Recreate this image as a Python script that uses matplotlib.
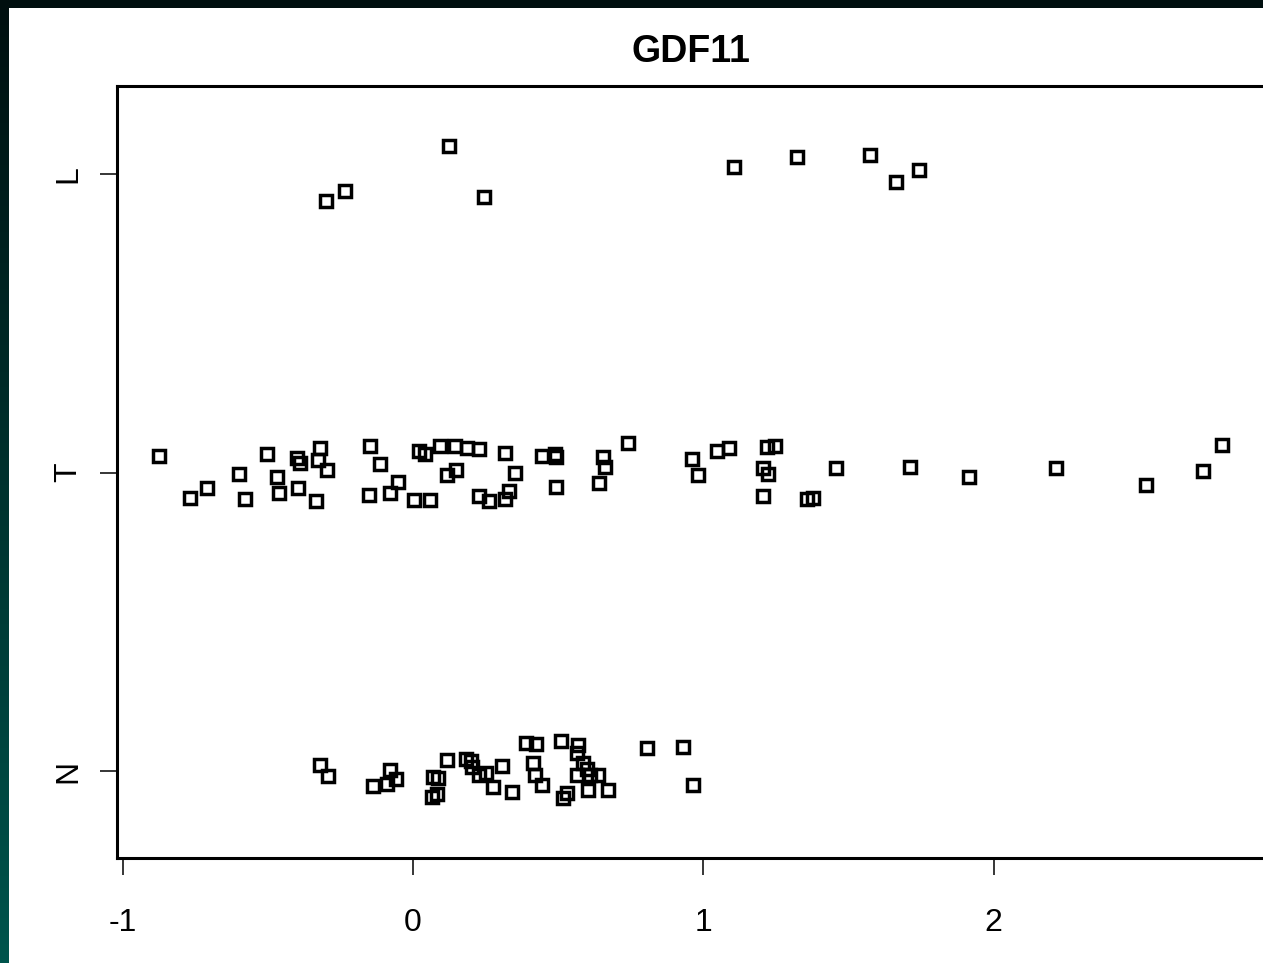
import matplotlib
matplotlib.use("Agg")
import matplotlib.pyplot as plt
import numpy as np
from matplotlib.patches import Rectangle

# GDF11 values per group (x) and the vertical jitter of each point
n_vals = [-0.322, -0.293, -0.138, -0.079, -0.059, -0.090, 0.069, 0.086, 0.065, 0.083,
          0.117, 0.183, 0.200, 0.203, 0.227, 0.251, 0.306, 0.276, 0.341, 0.389,
          0.424, 0.413, 0.420, 0.444, 0.510, 0.568, 0.565, 0.586, 0.599, 0.610,
          0.565, 0.637, 0.517, 0.530, 0.603, 0.672, 0.806, 0.930, 0.965]
n_jit = [0.020, -0.017, -0.050, 0.003, -0.027, -0.044, -0.020, -0.023, -0.087, -0.077,
         0.037, 0.040, 0.034, 0.013, -0.013, -0.007, 0.017, -0.054, -0.070, 0.094,
         0.090, 0.027, -0.013, -0.047, 0.100, 0.087, 0.060, 0.027, 0.007, -0.013,
         -0.013, -0.013, -0.090, -0.074, -0.064, -0.064, 0.077, 0.080, -0.047]

t_vals = [-0.875, -0.768, -0.710, -0.599, -0.579, -0.503, -0.468, -0.462, -0.400, -0.389,
          -0.396, -0.320, -0.327, -0.334, -0.296, -0.148, -0.114, -0.152, -0.052, -0.079,
          0.003, 0.059, 0.021, 0.041, 0.093, 0.145, 0.186, 0.227, 0.117, 0.148,
          0.227, 0.262, 0.317, 0.351, 0.317, 0.331, 0.444, 0.489, 0.493, 0.493,
          0.741, 0.654, 0.661, 0.641, 0.961, 0.982, 1.047, 1.089, 1.219, 1.247,
          1.206, 1.223, 1.206, 1.357, 1.378, 1.457, 1.712, 1.915, 2.215, 2.525,
          2.721, 2.787]
t_jit = [0.055, -0.085, -0.052, -0.005, -0.089, 0.062, -0.015, -0.069, 0.049, 0.032,
         -0.052, 0.082, 0.042, -0.095, 0.008, 0.089, 0.028, -0.075, -0.032, -0.069,
         -0.092, -0.092, 0.072, 0.062, 0.089, 0.089, 0.082, 0.079, -0.008, 0.008,
         -0.079, -0.095, 0.065, -0.002, -0.089, -0.062, 0.055, 0.062, 0.052, -0.049,
         0.099, 0.052, 0.018, -0.035, 0.045, -0.008, 0.072, 0.082, 0.085, 0.089,
         0.015, -0.005, -0.079, -0.089, -0.085, 0.015, 0.018, -0.015, 0.015, -0.042,
         0.005, 0.092]

l_vals = [0.124, -0.300, -0.234, 0.245, 1.106, 1.323, 1.574, 1.664, 1.743]
l_jit = [0.094, -0.090, -0.057, -0.077, 0.023, 0.057, 0.064, -0.027, 0.013]

groups = ["N", "T", "L"]
x_ticks = [-1, 0, 1, 2]

W, H = 1263, 963
fig = plt.figure(figsize=(W / 100, H / 100), dpi=100)

# dark screenshot frame with a vertical gradient, white page on top
bg = fig.add_axes([0, 0, 1, 1])
top = np.array([0.0, 0.06, 0.06])
bot = np.array([0.0, 0.33, 0.30])
t = np.linspace(0, 1, 256)[:, None]
grad = (top * (1 - t) + bot * t)[:, None, :]
bg.imshow(grad, aspect="auto", extent=[0, 1, 0, 1])
bg.add_patch(Rectangle((9 / W, 0), 1, (H - 8) / H, transform=bg.transAxes,
                       facecolor="white", edgecolor="none"))
bg.set_xlim(0, 1)
bg.set_ylim(0, 1)
bg.axis("off")

ax = fig.add_axes([117 / W, 105 / H, (1265 - 117) / W, 772 / H])
ax.set_facecolor("none")

for i, (vals, jit) in enumerate([(n_vals, n_jit), (t_vals, t_jit), (l_vals, l_jit)]):
    yy = np.array(jit) + i + 1
    ax.plot(vals, yy, "s", mfc="none", mec="black", ms=9.3, mew=2.5)

ax.set_xlim(-1.02, 2.935)
ax.set_ylim(0.7085, 3.295)
ax.set_xticks(x_ticks)
ax.set_xticklabels([str(v) for v in x_ticks])
ax.set_yticks([1, 2, 3])
ax.set_yticklabels(groups, rotation=90, va="center")

for s in ax.spines.values():
    s.set_linewidth(2.2)
ax.tick_params(axis="both", direction="out", length=12, width=1.1, labelsize=23)
ax.tick_params(axis="x", pad=24)
ax.tick_params(axis="y", pad=12)
for lab in ax.get_xticklabels() + ax.get_yticklabels():
    lab.set_family(["Liberation Sans", "DejaVu Sans"])

ax.set_title("GDF11", fontsize=27, fontweight="bold", pad=17,
             family=["Liberation Sans", "DejaVu Sans"])

fig.savefig("out.png", dpi=100)
